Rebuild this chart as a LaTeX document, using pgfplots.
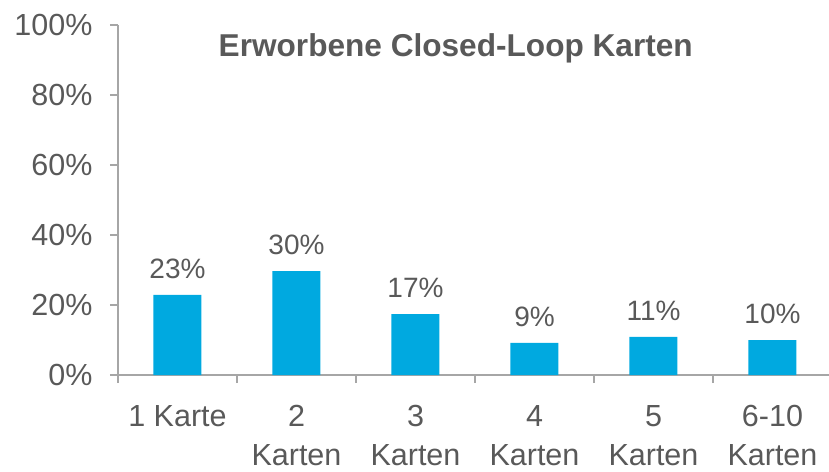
\documentclass[border=0pt]{standalone}
\usepackage{pgfplots}
\pgfplotsset{compat=1.18}
\usepackage{fontspec}
\setmainfont{Liberation Sans}
\definecolor{barblue}{HTML}{00A9E0}
\definecolor{txt}{HTML}{595959}
\definecolor{axgray}{HTML}{A6A6A6}
\begin{document}
\begin{tikzpicture}
\path[use as bounding box] (-118pt,-96pt) rectangle (711pt,375pt);
\begin{axis}[
  at={(0pt,0pt)}, anchor=south west,
  scale only axis, width=711pt, height=350pt,
  xmin=-0.5, xmax=5.475, ymin=0, ymax=100,
  axis x line*=bottom, axis y line*=left,
  axis line style={axgray, line width=1.2pt, -},
  ytick={0,20,40,60,80,100},
  yticklabels={0\%,20\%,40\%,60\%,80\%,100\%},
  xtick={0,1,2,3,4,5},
  xticklabels={1 Karte,2\\Karten,3\\Karten,4\\Karten,5\\Karten,6-10\\Karten},
  minor xtick={-0.5,0.5,1.5,2.5,3.5,4.5},
  tick align=outside, major tick length=8pt, minor tick length=8pt,
  major x tick style={draw=none},
  minor x tick style={axgray, line width=1.2pt},
  ytick style={axgray, line width=1.2pt},
  ticklabel style={font=\fontsize{30.5}{39}\selectfont, text=txt},
  xticklabel style={align=center, anchor=north, inner sep=0pt, yshift=-22pt},
  yticklabel style={anchor=east, xshift=-14pt},
  clip=false,
]
\addplot[ybar, bar width=48pt, fill=barblue, draw=none,
  point meta=explicit symbolic,
  nodes near coords={\pgfplotspointmeta\%},
  nodes near coords style={font=\fontsize{28}{34}\selectfont, text=txt, anchor=south, inner sep=0pt, yshift=16pt},
] table[meta=lab] {
x y lab
0 22.9 23
1 29.7 30
2 17.4 17
3 9.2 9
4 10.9 11
5 10.0 10
};
\node[anchor=base, font=\bfseries\fontsize{31.6}{36}\selectfont, text=txt] at (rel axis cs:0.475,0.911) {Erworbene Closed-Loop Karten};
\end{axis}
\end{tikzpicture}
\end{document}
